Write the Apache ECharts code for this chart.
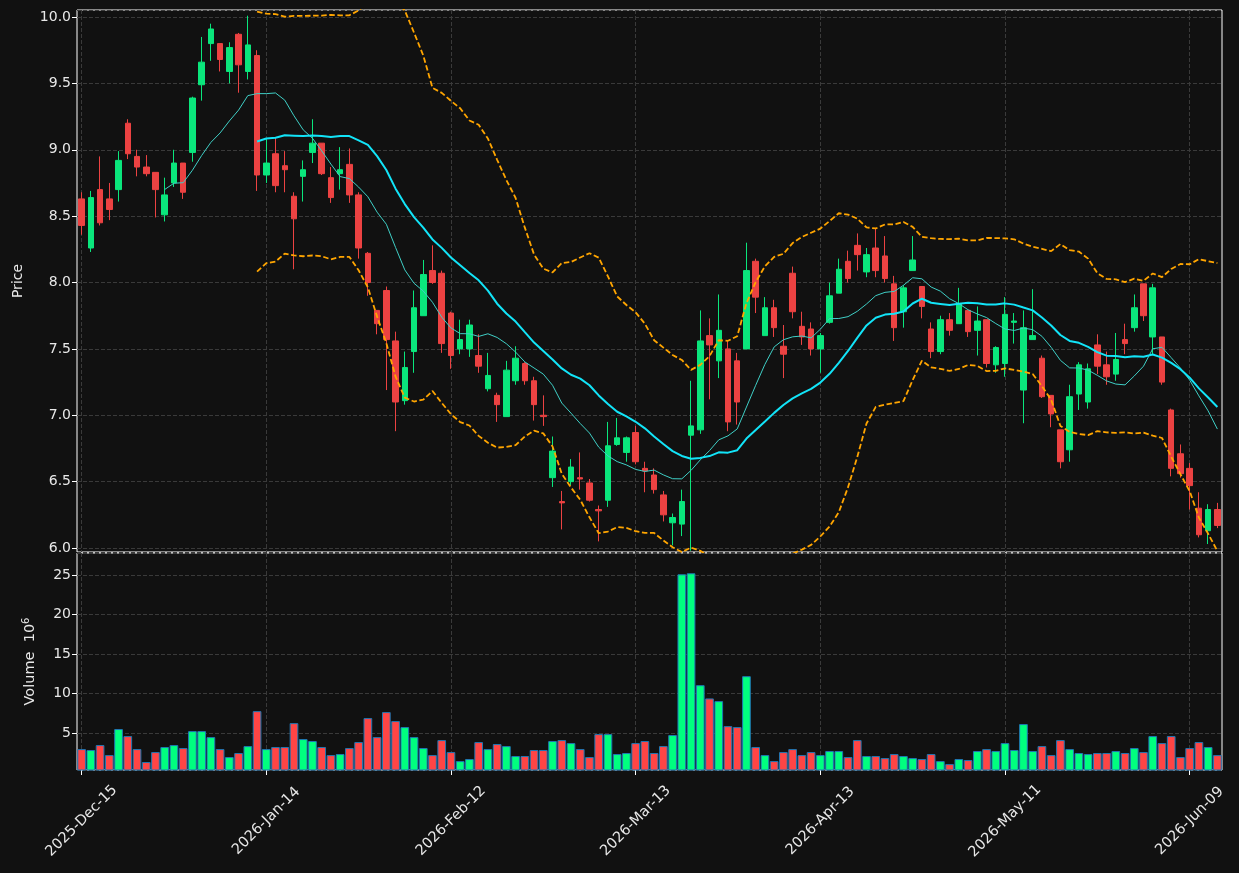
<!DOCTYPE html>
<html>
<head>
<meta charset="utf-8">
<script src="https://cdn.jsdelivr.net/npm/echarts@6/dist/echarts.min.js"></script>
<style>
  html, body { margin: 0; padding: 0; background: #111111; }
  #chart { width: 1239px; height: 873px; }
</style>
</head>
<body>
<div id="chart"></div>
<script>
// trading days: weekdays from the start date, market holidays skipped
const startDate = '2025-12-15';
const holidays = ['2025-12-25', '2026-01-01', '2026-01-19', '2026-02-16', '2026-04-03', '2026-05-25'];
const dayCount = 124;

const opens = [
  8.63, 8.26, 8.70, 8.63, 8.70, 9.20, 8.95, 8.87, 8.83, 8.51,
  8.75, 8.90, 8.98, 9.49, 9.80, 9.80, 9.59, 9.87, 9.59, 9.71,
  8.81, 8.97, 8.88, 8.65, 8.80, 8.98, 9.05, 8.79, 8.82, 8.89,
  8.66, 8.22, 7.79, 7.94, 7.56, 7.11, 7.48, 7.75, 8.09, 8.07,
  7.77, 7.50, 7.50, 7.45, 7.20, 7.15, 6.99, 7.26, 7.39, 7.26,
  7.00, 6.53, 6.35, 6.50, 6.53, 6.49, 6.29, 6.36, 6.78, 6.72,
  6.87, 6.60, 6.55, 6.40, 6.19, 6.18, 6.85, 6.89, 7.60, 7.41,
  7.50, 7.41, 7.50, 8.16, 7.60, 7.81, 7.52, 8.07, 7.67, 7.65,
  7.50, 7.70, 7.92, 8.16, 8.28, 8.08, 8.26, 8.20, 7.99, 7.78,
  8.09, 7.97, 7.65, 7.48, 7.72, 7.69, 7.79, 7.64, 7.72, 7.38,
  7.39, 7.70, 7.19, 7.57, 7.43, 7.15, 6.89, 6.74, 7.16, 7.10,
  7.53, 7.38, 7.31, 7.57, 7.66, 7.99, 7.59, 7.59, 7.04, 6.71,
  6.60, 6.30, 6.13, 6.29
];
const highs = [
  8.68, 8.69, 8.95, 8.75, 8.99, 9.23, 9.00, 8.96, 8.83, 8.79,
  9.00, 8.90, 9.40, 9.85, 9.95, 9.80, 9.81, 9.88, 10.01, 9.75,
  9.08, 9.09, 8.99, 8.68, 8.92, 9.23, 9.05, 8.87, 9.02, 9.01,
  8.68, 8.23, 7.79, 7.97, 7.63, 7.48, 7.94, 8.17, 8.28, 8.09,
  7.78, 7.72, 7.72, 7.61, 7.47, 7.17, 7.41, 7.52, 7.40, 7.29,
  7.15, 6.84, 6.43, 6.67, 6.72, 6.52, 6.32, 6.95, 6.98, 6.84,
  6.92, 6.65, 6.60, 6.43, 6.26, 6.44, 7.26, 7.79, 7.73, 7.91,
  7.56, 7.47, 8.30, 8.18, 7.89, 7.87, 7.68, 8.12, 7.78, 7.70,
  7.62, 8.00, 8.18, 8.24, 8.37, 8.26, 8.41, 8.35, 8.05, 7.98,
  8.35, 7.97, 7.70, 7.75, 7.77, 7.96, 7.79, 7.82, 7.72, 7.52,
  7.89, 7.77, 7.79, 7.95, 7.45, 7.15, 6.89, 7.23, 7.40, 7.39,
  7.61, 7.48, 7.62, 7.69, 7.91, 7.99, 7.99, 7.59, 7.05, 6.78,
  6.64, 6.42, 6.33, 6.34
];
const lows = [
  8.36, 8.23, 8.43, 8.47, 8.61, 8.93, 8.80, 8.80, 8.49, 8.46,
  8.72, 8.63, 8.91, 9.37, 9.67, 9.59, 9.50, 9.43, 9.53, 8.69,
  8.75, 8.68, 8.68, 8.10, 8.61, 8.90, 8.81, 8.60, 8.70, 8.60,
  8.18, 7.90, 7.61, 7.19, 6.88, 7.08, 7.32, 7.75, 7.99, 7.47,
  7.35, 7.46, 7.44, 7.32, 7.18, 6.95, 6.99, 7.23, 7.23, 6.96,
  6.92, 6.46, 6.14, 6.47, 6.44, 6.35, 6.05, 6.31, 6.77, 6.65,
  6.63, 6.42, 6.41, 6.20, 6.02, 6.09, 5.98, 6.86, 7.12, 7.28,
  6.88, 6.93, 7.50, 7.77, 7.60, 7.59, 7.28, 7.73, 7.53, 7.45,
  7.32, 7.69, 7.92, 8.00, 8.09, 8.04, 8.04, 8.00, 7.56, 7.66,
  8.09, 7.73, 7.43, 7.46, 7.60, 7.69, 7.59, 7.45, 7.36, 7.32,
  7.29, 7.54, 6.94, 7.57, 7.13, 6.91, 6.60, 6.65, 7.04, 7.05,
  7.31, 7.23, 7.26, 7.46, 7.63, 7.71, 7.46, 7.23, 6.54, 6.53,
  6.29, 6.08, 6.03, 6.15
];
const closes = [
  8.43, 8.64, 8.45, 8.55, 8.92, 8.97, 8.87, 8.82, 8.70, 8.66,
  8.90, 8.68, 9.39, 9.66, 9.91, 9.68, 9.77, 9.64, 9.79, 8.81,
  8.90, 8.73, 8.85, 8.48, 8.85, 9.05, 8.82, 8.64, 8.85, 8.66,
  8.26, 8.00, 7.69, 7.57, 7.10, 7.36, 7.81, 8.06, 8.00, 7.54,
  7.45, 7.57, 7.68, 7.37, 7.30, 7.08, 7.34, 7.43, 7.26, 7.08,
  6.99, 6.73, 6.34, 6.61, 6.52, 6.36, 6.28, 6.77, 6.83, 6.83,
  6.65, 6.58, 6.44, 6.25, 6.23, 6.35, 6.92, 7.56, 7.53, 7.64,
  6.95, 7.10, 8.09, 7.89, 7.81, 7.66, 7.46, 7.78, 7.59, 7.50,
  7.60, 7.90, 8.10, 8.03, 8.21, 8.21, 8.09, 8.03, 7.66, 7.96,
  8.17, 7.82, 7.48, 7.72, 7.64, 7.84, 7.63, 7.71, 7.39, 7.51,
  7.76, 7.71, 7.66, 7.60, 7.14, 7.01, 6.65, 7.14, 7.38, 7.35,
  7.37, 7.29, 7.42, 7.54, 7.81, 7.75, 7.96, 7.25, 6.60, 6.56,
  6.47, 6.10, 6.29, 6.17
];
// volume in millions
const volumes = [
  2.95, 2.83, 3.46, 2.19, 5.49, 4.60, 2.95, 1.31, 2.57, 3.21,
  3.46, 3.08, 5.23, 5.23, 4.47, 2.95, 1.94, 2.45, 3.33, 7.76,
  2.95, 3.21, 3.21, 6.24, 4.22, 3.97, 3.21, 2.19, 2.32, 3.08,
  3.84, 6.88, 4.47, 7.64, 6.50, 5.74, 4.47, 3.08, 2.19, 4.09,
  2.57, 1.43, 1.69, 3.84, 2.95, 3.59, 3.33, 2.07, 2.07, 2.83,
  2.83, 3.97, 4.09, 3.71, 2.95, 1.94, 4.85, 4.85, 2.32, 2.45,
  3.71, 3.97, 2.45, 3.33, 4.73, 25.10, 25.23, 11.05, 9.37, 9.03,
  5.86, 5.74, 12.19, 3.21, 2.19, 1.43, 2.57, 2.95, 2.19, 2.57,
  2.19, 2.70, 2.70, 1.94, 4.09, 2.07, 2.07, 1.81, 2.32, 2.07,
  1.81, 1.69, 2.32, 1.43, 1.05, 1.69, 1.56, 2.70, 2.95, 2.70,
  3.71, 2.83, 6.12, 2.70, 3.33, 2.19, 4.09, 2.95, 2.45, 2.32,
  2.45, 2.45, 2.70, 2.45, 3.08, 2.57, 4.60, 3.71, 4.60, 1.94,
  3.08, 3.84, 3.21, 2.19
];

const monthNames = ['Jan', 'Feb', 'Mar', 'Apr', 'May', 'Jun', 'Jul', 'Aug', 'Sep', 'Oct', 'Nov', 'Dec'];

function tradingDays(start, count) {
  let days = [];
  let d = new Date(start + 'T00:00:00Z');
  while (days.length < count) {
    let iso = d.toISOString().slice(0, 10);
    let wd = d.getUTCDay();
    if (wd !== 0 && wd !== 6 && holidays.indexOf(iso) < 0) {
      let dd = String(d.getUTCDate()).padStart(2, '0');
      days.push(d.getUTCFullYear() + '-' + monthNames[d.getUTCMonth()] + '-' + dd);
    }
    d.setUTCDate(d.getUTCDate() + 1);
  }
  return days;
}

function movingAverage(values, n) {
  let out = [];
  for (let i = 0; i < values.length; i++) {
    if (i < n - 1) { out.push(null); continue; }
    let sum = 0;
    for (let j = i - n + 1; j <= i; j++) sum += values[j];
    out.push(+(sum / n).toFixed(4));
  }
  return out;
}

function band(values, n, k, sign) {
  let mid = movingAverage(values, n);
  let out = [];
  for (let i = 0; i < values.length; i++) {
    if (mid[i] === null) { out.push(null); continue; }
    let ss = 0;
    for (let j = i - n + 1; j <= i; j++) ss += (values[j] - mid[i]) * (values[j] - mid[i]);
    out.push(+(mid[i] + sign * k * Math.sqrt(ss / n)).toFixed(4));
  }
  return out;
}

const dates = tradingDays(startDate, dayCount);
const candles = [];
for (let i = 0; i < dayCount; i++) {
  candles.push([opens[i], closes[i], lows[i], highs[i]]);
}
const volumeBars = volumes.map(function (v, i) {
  return {
    value: v,
    itemStyle: { color: closes[i] >= opens[i] ? '#00ff7f' : '#ff4545' }
  };
});

const textColor = '#e8e8e8';
const gridLine = { show: true, lineStyle: { color: '#3a3a3a', type: [4, 2], width: 1 } };

const chart = echarts.init(document.getElementById('chart'), null, { renderer: 'canvas' });

const option = {
  animation: false,
  backgroundColor: '#111111',
  textStyle: { fontFamily: 'DejaVu Sans' },
  grid: [
    { left: 77, top: 10, width: 1145, height: 542, show: true, borderColor: '#ffffff', borderWidth: 1, backgroundColor: '#111111' },
    { left: 77, top: 553, width: 1145, height: 217, show: true, borderColor: '#ffffff', borderWidth: 1, backgroundColor: '#111111' }
  ],
  xAxis: [{
    type: 'category',
    gridIndex: 0,
    data: dates,
    boundaryGap: true,
    axisLine: { show: false },
    axisTick: { show: false },
    axisLabel: { show: false },
    splitLine: Object.assign({ interval: 19, alignWithLabel: true }, gridLine)
  }, {
    type: 'category',
    gridIndex: 1,
    data: dates,
    boundaryGap: true,
    axisLine: { show: false },
    axisTick: { show: true, interval: 19, alignWithLabel: true, length: 5, lineStyle: { color: '#ffffff' } },
    axisLabel: {
      interval: 19, rotate: 45, color: textColor, fontSize: 14.5,
      align: 'center', verticalAlign: 'middle', margin: 51
    },
    splitLine: Object.assign({ interval: 19, alignWithLabel: true }, gridLine)
  }],
  yAxis: [{
    type: 'value',
    gridIndex: 0,
    min: 5.97,
    max: 10.053,
    splitNumber: 8,
    name: 'Price',
    nameLocation: 'middle',
    nameRotate: 90,
    nameGap: 52,
    nameTextStyle: { color: textColor, fontSize: 14 },
    axisLine: { show: false },
    axisTick: { show: true, length: 5, lineStyle: { color: '#ffffff' } },
    axisLabel: {
      color: textColor, fontSize: 14, margin: 6,
      showMinLabel: false, showMaxLabel: false,
      formatter: function (v) { return v.toFixed(1); }
    },
    splitLine: gridLine
  }, {
    type: 'value',
    gridIndex: 1,
    min: 0.3,
    max: 27.8,
    splitNumber: 5,
    name: 'Volume  10{sup|6}',
    nameLocation: 'middle',
    nameRotate: 90,
    nameGap: 38,
    nameTextStyle: {
      color: textColor, fontSize: 14.5,
      rich: { sup: { color: textColor, fontSize: 10, verticalAlign: 'top', padding: [0, 0, 8, 0] } }
    },
    axisLine: { show: false },
    axisTick: { show: true, length: 5, lineStyle: { color: '#ffffff' } },
    axisLabel: {
      color: textColor, fontSize: 14, margin: 6,
      showMinLabel: false, showMaxLabel: false,
      formatter: function (v) { return String(Math.round(v)); }
    },
    splitLine: gridLine
  }],
  series: [{
    name: 'OHLC',
    type: 'candlestick',
    xAxisIndex: 0,
    yAxisIndex: 0,
    data: candles,
    barWidth: 6,
    itemStyle: {
      color: '#0ae67c',
      color0: '#ec4242',
      borderColor: '#0ae67c',
      borderColor0: '#ec4242',
      borderWidth: 1
    }
  }, {
    name: 'MA10',
    type: 'line',
    xAxisIndex: 0,
    yAxisIndex: 0,
    data: movingAverage(closes, 10),
    showSymbol: false,
    lineStyle: { color: '#3fcfc6', width: 1 }
  }, {
    name: 'MA20',
    type: 'line',
    xAxisIndex: 0,
    yAxisIndex: 0,
    data: movingAverage(closes, 20),
    showSymbol: false,
    lineStyle: { color: '#12e4f8', width: 2 }
  }, {
    name: 'Upper',
    type: 'line',
    xAxisIndex: 0,
    yAxisIndex: 0,
    data: band(closes, 20, 2, 1),
    showSymbol: false,
    lineStyle: { color: '#ffa500', width: 1.8, type: [5.5, 2.6] }
  }, {
    name: 'Lower',
    type: 'line',
    xAxisIndex: 0,
    yAxisIndex: 0,
    data: band(closes, 20, 2, -1),
    showSymbol: false,
    lineStyle: { color: '#ffa500', width: 1.8, type: [5.5, 2.6] }
  }, {
    name: 'Volume',
    type: 'bar',
    xAxisIndex: 1,
    yAxisIndex: 1,
    data: volumeBars,
    barWidth: '94%',
    itemStyle: { borderColor: '#1f77b4', borderWidth: 1 }
  }]
};

chart.setOption(option);
</script>
</body>
</html>
